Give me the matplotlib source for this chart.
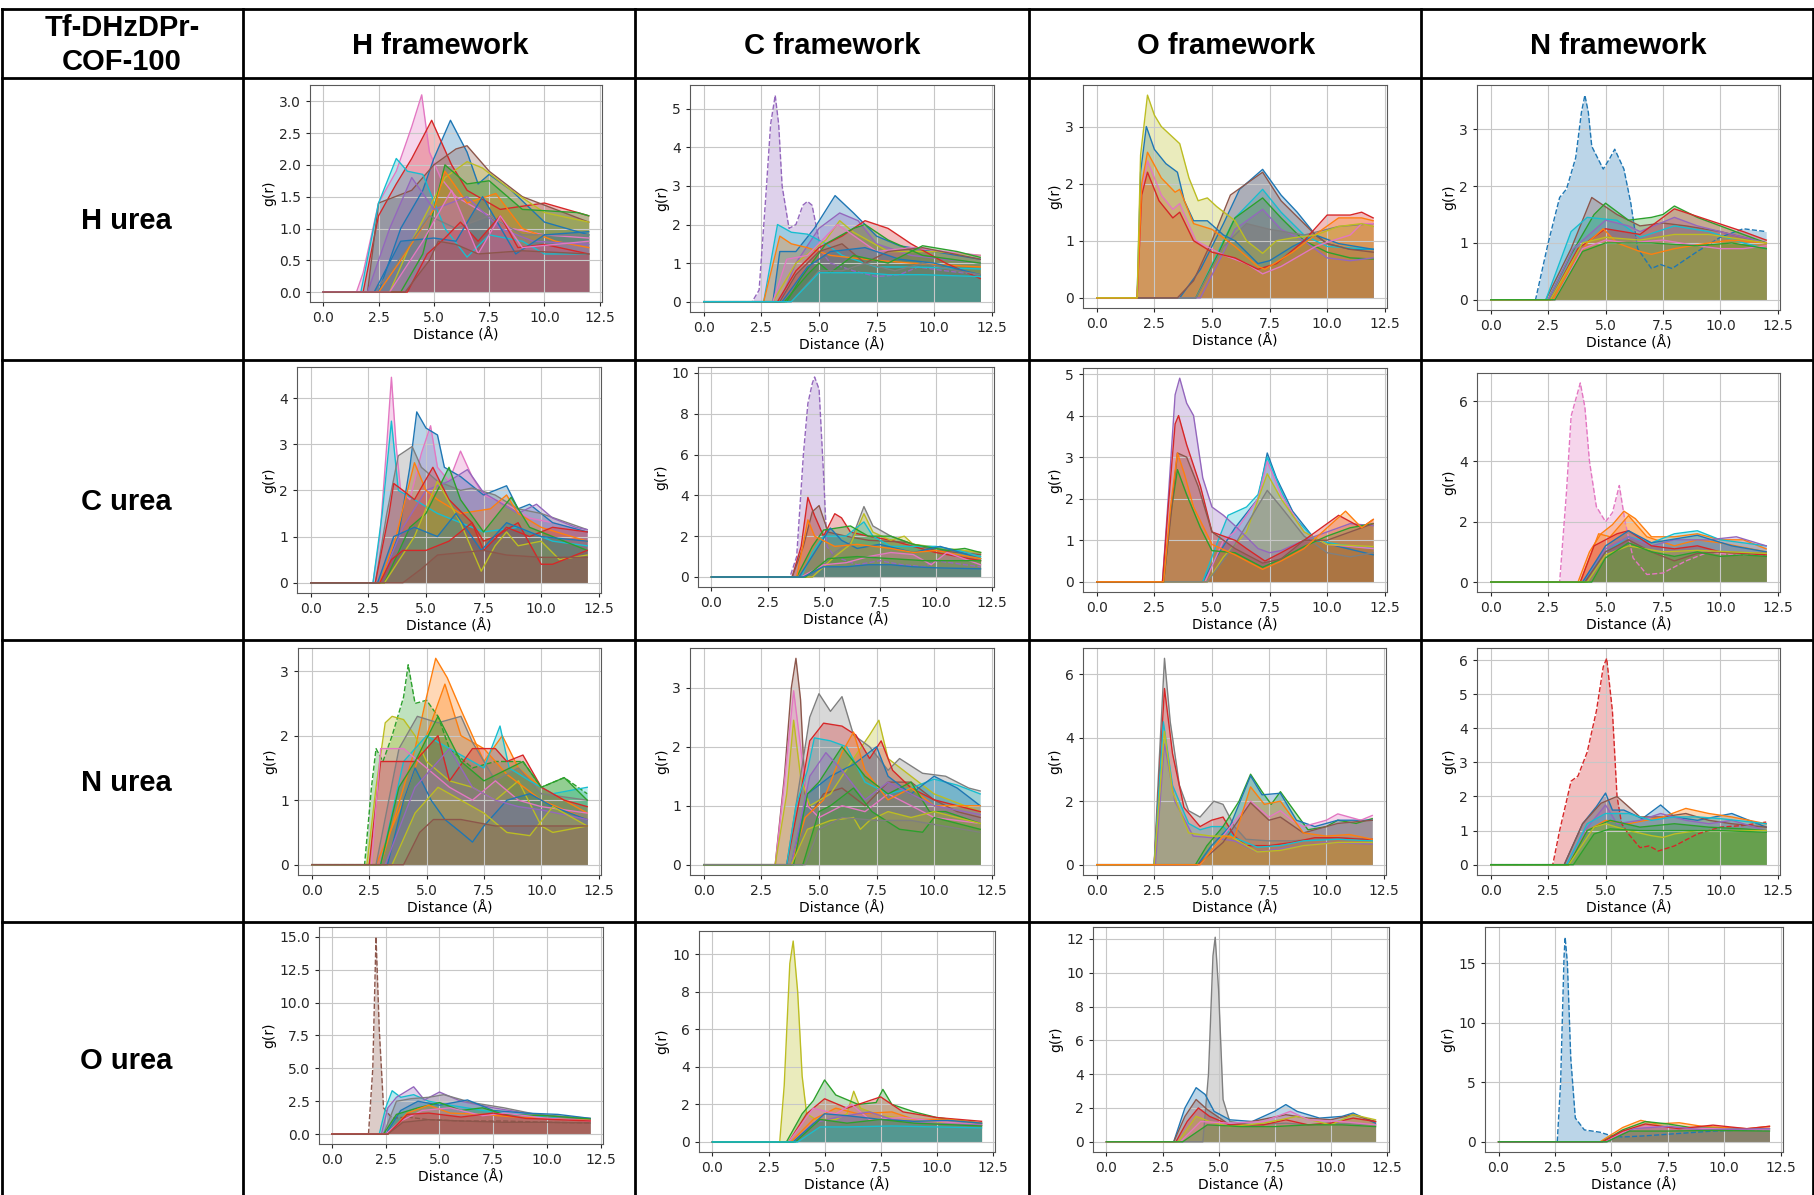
import numpy as np
import matplotlib
matplotlib.use('Agg')
import matplotlib.pyplot as plt
from matplotlib.lines import Line2D
from matplotlib.ticker import MultipleLocator

W, H = 1815, 1195

corner_label = 'Tf-DHzDPr-\nCOF-100'
col_labels = ['H framework', 'C framework', 'O framework', 'N framework']
row_labels = ['H urea', 'C urea', 'N urea', 'O urea']

# ---- g(r) curves: each curve = list of (r [Å], g(r)) ----
# H urea
HH = [
    [(0, 0), (1.5, 0), (1.8, 0.3), (2.5, 1.4), (3.3, 1.9), (4.0, 2.6), (4.45, 3.1), (4.8, 2.2), (5.3, 1.8), (6.0, 1.5), (7.0, 1.3), (8.5, 1.0), (10, 0.9), (12, 0.85)],
    [(0, 0), (2.5, 0), (3.5, 1.0), (4.5, 1.6), (5.0, 2.1), (5.75, 2.7), (6.5, 2.2), (7.0, 1.7), (7.5, 1.85), (8.5, 1.6), (10, 1.1), (12, 0.9)],
    [(0, 0), (1.8, 0), (2.5, 1.2), (3.3, 1.7), (4.0, 2.1), (4.9, 2.7), (5.8, 2.0), (6.5, 1.6), (8.0, 1.3), (10, 1.4), (11, 1.3), (12, 1.2)],
    [(0, 0), (2.0, 0), (2.5, 1.4), (4.0, 1.6), (5.0, 2.0), (6.0, 2.25), (6.5, 2.3), (7.5, 1.9), (9, 1.5), (10.5, 1.3), (12, 1.1)],
    [(0, 0), (1.7, 0), (2.5, 1.4), (3.3, 2.1), (3.8, 1.9), (4.5, 1.85), (5.5, 1.0), (6.5, 0.55), (7.5, 0.9), (9, 0.8), (10, 0.6), (12, 0.6)],
    [(0, 0), (3.0, 0), (4.0, 0.8), (5.5, 1.8), (6.5, 2.05), (7.2, 1.95), (8.5, 1.6), (10, 1.25), (12, 1.1)],
    [(0, 0), (3.5, 0), (4.5, 0.6), (5.5, 2.0), (6.5, 1.7), (7.5, 1.75), (9, 1.3), (11.5, 1.25), (12, 1.2)],
    [(0, 0), (2.5, 0), (3.5, 0.5), (5.0, 1.3), (5.5, 1.9), (6.5, 1.4), (7.8, 1.55), (9, 1.0), (10.5, 0.8), (12, 0.7)],
    [(0, 0), (2.0, 0), (3.0, 1.0), (4.0, 1.8), (5.0, 1.3), (6.5, 1.5), (8.0, 1.0), (9.5, 0.8), (12, 0.75)],
    [(0, 0), (2.3, 0), (3.2, 0.4), (4.8, 1.2), (6.0, 1.0), (7.5, 1.2), (9, 0.9), (12, 0.9)],
    [(0, 0), (2.3, 0), (3.5, 0.8), (5.0, 0.85), (6.0, 0.8), (7.2, 1.5), (8.7, 0.6), (10, 0.9), (12, 0.95)],
    [(0, 0), (3.8, 0), (4.7, 0.6), (5.5, 0.85), (6.2, 1.1), (7.0, 0.8), (8.0, 1.2), (8.8, 0.7), (10, 0.75), (12, 0.6)],
    [(0, 0), (3.0, 0), (4.5, 0.8), (5.8, 1.6), (7.0, 0.6), (8.0, 1.2), (9.0, 0.7), (12, 0.8)],
    [(0, 0), (3.7, 0), (4.8, 0.5), (5.2, 0.8), (6.0, 0.75), (7.0, 0.6), (9, 0.65), (12, 0.6)],
]
HH_colors = ['C6', 'C0', 'C3', 'C5', 'C9', 'C8', 'C2', 'C1', 'C4', 'C7', 'C0', 'C3', 'C6', 'C5']

CH = [
    [(0, 0), (2.1, 0), (2.4, 0.3), (2.7, 2.8), (2.9, 4.6), (3.1, 5.35), (3.25, 4.6), (3.4, 3.0), (3.7, 1.9), (4.0, 2.0), (4.3, 2.5), (4.5, 2.6), (4.7, 2.5), (5.1, 1.3), (5.5, 1.0), (6.5, 0.8), (7.5, 0.65), (8.5, 0.7), (9.3, 0.9), (10.5, 0.8), (12, 0.7)],
    [(0, 0), (3.0, 0), (3.3, 1.3), (4.0, 1.3), (4.8, 1.9), (5.7, 2.75), (6.5, 2.3), (7.5, 1.7), (8.5, 1.45), (10, 1.3), (12, 1.1)],
    [(0, 0), (3.3, 0), (4.0, 1.0), (5.0, 1.9), (5.9, 2.3), (6.7, 2.1), (7.5, 1.5), (9, 1.2), (12, 1.0)],
    [(0, 0), (2.6, 0), (3.2, 2.0), (3.8, 1.8), (4.5, 1.75), (5.3, 1.5), (6.0, 1.2), (7.5, 0.9), (9, 0.9), (12, 0.85)],
    [(0, 0), (2.6, 0), (3.3, 1.7), (3.8, 1.5), (4.5, 1.4), (5.5, 1.2), (7.0, 1.1), (9, 1.0), (12, 0.9)],
    [(0, 0), (3.0, 0), (4.0, 1.0), (5.3, 1.6), (5.9, 2.1), (6.5, 1.8), (8.0, 1.3), (10, 1.3), (12, 1.2)],
    [(0, 0), (3.2, 0), (4.0, 0.8), (5.0, 1.4), (6.0, 1.7), (7.0, 2.1), (8.0, 1.9), (9.0, 1.5), (10.5, 1.0), (12, 0.6)],
    [(0, 0), (3.6, 0), (4.2, 0.6), (5.3, 1.5), (6.5, 1.9), (7.0, 2.0), (8.0, 1.6), (9.5, 1.2), (12, 1.0)],
    [(0, 0), (3.0, 0), (3.6, 1.1), (4.5, 1.2), (5.8, 2.0), (6.3, 1.8), (7.5, 1.3), (9, 1.4), (12, 1.2)],
    [(0, 0), (3.3, 0), (4.0, 0.7), (5.0, 1.3), (6.0, 1.5), (7.0, 1.0), (8.0, 1.3), (9.5, 1.4), (12, 1.1)],
    [(0, 0), (3.4, 0), (4.5, 0.9), (5.5, 1.3), (7.0, 1.4), (8.5, 1.1), (10, 1.0), (12, 0.7)],
    [(0, 0), (3.5, 0), (4.5, 0.7), (5.0, 1.0), (5.5, 0.75), (6.5, 1.2), (8.0, 1.0), (9.5, 1.45), (11, 1.3), (12, 1.15)],
    [(0, 0), (3.8, 0), (5.0, 0.8), (6.0, 0.8), (7.0, 1.0), (8.3, 0.8), (9.5, 1.0), (11, 0.8), (12, 0.7)],
    [(0, 0), (3.8, 0), (5.0, 0.75), (6.0, 0.75), (7.0, 0.75), (8.0, 0.7), (9.5, 0.7), (12, 0.65)],
]
CH_colors = ['C4', 'C0', 'C4', 'C9', 'C1', 'C8', 'C3', 'C2', 'C6', 'C5', 'C0', 'C2', 'C7', 'C9']

OH = [
    [(0, 0), (3.6, 0), (4.5, 0.5), (5.5, 1.3), (6.2, 1.9), (7.2, 2.25), (8.0, 1.8), (8.7, 1.5), (9.5, 1.1), (10, 0.95), (11, 0.85), (12, 0.85)],
    [(0, 0), (4.3, 0), (5.5, 1.0), (6.0, 1.4), (7.2, 1.9), (8.0, 1.5), (9.0, 1.1), (10, 0.9), (12, 0.85)],
    [(0, 0), (4.3, 0), (5.3, 0.8), (6.0, 1.4), (7.2, 1.75), (8.0, 1.4), (9.0, 1.0), (10, 0.8), (11, 0.7), (12, 0.68)],
    [(0, 0), (4.5, 0), (5.5, 0.8), (6.0, 1.2), (7.2, 1.55), (8.0, 1.2), (9.0, 1.0), (10, 0.7), (11, 0.65), (12, 0.7)],
    [(0, 0), (4.3, 0), (5.5, 0.9), (6.5, 1.3), (7.5, 1.2), (9.0, 1.1), (10.5, 1.25), (12, 1.3)],
    [(0, 0), (3.5, 0), (4.2, 0.3), (5.0, 1.0), (5.8, 1.8), (6.5, 2.0), (7.2, 2.2), (8.0, 1.7), (8.5, 1.5), (9.5, 1.1), (10, 0.95), (11, 0.85), (12, 0.8)],
    [(0, 0), (1.75, 0), (1.9, 2.2), (2.15, 3.0), (2.5, 2.6), (3.0, 2.35), (3.5, 2.2), (3.8, 1.7), (4.2, 1.35), (4.8, 1.35), (5.5, 1.1), (6.0, 1.0), (7.0, 0.6), (7.5, 0.65), (8.5, 0.9), (9.5, 1.1), (10.5, 0.95), (12, 0.85)],
    [(0, 0), (1.75, 0), (1.95, 1.9), (2.2, 2.4), (2.8, 1.8), (3.3, 1.55), (3.6, 1.65), (4.3, 1.0), (5.5, 0.75), (6.5, 0.6), (7.2, 0.42), (8.0, 0.55), (9.5, 0.9), (10.2, 1.0), (11, 1.1), (11.5, 1.3), (12, 1.3)],
    [(0, 0), (1.75, 0), (1.95, 1.8), (2.2, 2.2), (2.7, 1.7), (3.3, 1.4), (3.6, 1.5), (4.2, 1.0), (5.0, 0.8), (6.0, 0.7), (7.0, 0.5), (7.8, 0.6), (9.0, 1.0), (10, 1.45), (11, 1.45), (11.5, 1.5), (12, 1.4)],
    [(0, 0), (1.75, 0), (1.95, 2.0), (2.2, 2.55), (2.8, 2.1), (3.4, 1.85), (3.6, 1.9), (4.2, 1.3), (5.0, 1.2), (6.0, 0.9), (7.0, 0.55), (7.3, 0.5), (8.5, 0.8), (9.8, 1.2), (10.5, 1.4), (11.5, 1.4), (12, 1.35)],
    [(0, 0), (1.75, 0), (1.9, 2.5), (2.2, 3.55), (2.5, 3.2), (2.8, 3.0), (3.2, 2.85), (3.6, 2.7), (4.0, 2.1), (4.4, 1.7), (4.8, 1.75), (5.2, 1.6), (6.0, 1.35), (6.5, 1.0), (7.2, 0.78), (7.8, 1.0), (8.5, 1.05), (9.5, 1.1), (10.5, 1.25), (11.5, 1.3), (12, 1.25)],
]
OH_colors = ['C0', 'C9', 'C2', 'C4', 'C7', 'C5', 'C0', 'C6', 'C3', 'C1', 'C8']

NH = [
    [(0, 0), (1.95, 0), (2.5, 1.0), (3.0, 1.8), (3.3, 1.95), (3.7, 2.5), (3.95, 3.3), (4.1, 3.6), (4.25, 3.3), (4.4, 2.7), (4.9, 2.3), (5.2, 2.5), (5.4, 2.65), (5.8, 2.3), (6.1, 1.7), (6.4, 0.9), (7.0, 0.55), (7.4, 0.62), (7.9, 0.55), (9.0, 0.85), (10, 1.1), (11, 1.25), (12, 1.2)],
    [(0, 0), (2.4, 0), (3.5, 0.9), (4.4, 1.8), (5.5, 1.5), (6.5, 1.3), (7.5, 1.35), (8.5, 1.3), (10, 1.2), (12, 1.0)],
    [(0, 0), (2.5, 0), (3.5, 0.8), (4.5, 1.5), (5.0, 1.7), (6.0, 1.4), (7.0, 1.45), (7.5, 1.5), (8.0, 1.65), (9, 1.45), (10, 1.3), (11, 1.15), (12, 1.0)],
    [(0, 0), (2.4, 0), (3.5, 1.2), (4.2, 1.45), (5.5, 1.4), (6.5, 1.1), (8.0, 1.3), (9.5, 1.2), (11, 1.0), (12, 0.9)],
    [(0, 0), (2.5, 0), (3.6, 0.9), (5.0, 1.4), (6.0, 1.3), (6.5, 1.2), (8.0, 1.45), (9, 1.3), (10, 1.2), (12, 1.0)],
    [(0, 0), (2.6, 0), (3.8, 0.9), (5.0, 1.25), (6.5, 1.15), (8.0, 1.6), (9.5, 1.4), (11, 1.2), (12, 1.05)],
    [(0, 0), (2.7, 0), (3.5, 0.6), (4.2, 1.0), (4.9, 1.25), (5.5, 1.0), (6.5, 0.85), (7.0, 0.8), (8.0, 0.9), (9.5, 1.0), (10.5, 1.05), (12, 1.0)],
    [(0, 0), (2.8, 0), (4.0, 0.9), (5.0, 1.05), (6.0, 1.0), (7.5, 1.05), (9.0, 0.95), (10, 0.9), (11, 0.9), (12, 0.95)],
    [(0, 0), (2.6, 0), (4.0, 1.0), (5.0, 1.1), (6.5, 1.05), (8.0, 1.15), (9.5, 1.15), (12, 1.0)],
    [(0, 0), (2.8, 0), (4.0, 0.85), (5.0, 1.0), (7.0, 1.0), (9.0, 0.95), (10.5, 1.0), (12, 0.9)],
]
NH_colors = ['C0', 'C5', 'C2', 'C9', 'C4', 'C3', 'C1', 'C6', 'C8', 'C2']

# C urea
HC = [
    [(0, 0), (2.7, 0), (3.0, 1.0), (3.3, 3.0), (3.5, 4.45), (3.7, 3.0), (3.9, 2.0), (4.3, 1.8), (4.8, 2.8), (5.2, 3.4), (5.5, 2.5), (6.0, 2.2), (6.5, 2.85), (7.0, 2.3), (7.5, 1.9), (8.5, 1.7), (9.5, 1.4), (10.5, 1.3), (12, 1.1)],
    [(0, 0), (2.7, 0), (3.1, 1.5), (3.5, 3.5), (3.8, 2.0), (4.5, 1.8), (5.5, 1.5), (6.5, 1.3), (7.5, 1.1), (9, 1.2), (10.5, 0.9), (12, 0.8)],
    [(0, 0), (3.0, 0), (3.8, 1.0), (4.3, 2.5), (4.6, 3.7), (5.0, 3.35), (5.5, 3.2), (5.8, 2.5), (6.5, 2.3), (7.5, 1.9), (8.5, 2.1), (9.0, 1.6), (9.5, 1.7), (10.5, 1.3), (12, 1.1)],
    [(0, 0), (2.8, 0), (3.3, 1.5), (3.8, 2.75), (4.4, 2.95), (4.8, 2.5), (5.5, 2.2), (6.5, 2.0), (7.0, 2.05), (8.0, 1.9), (9.0, 1.6), (10, 1.5), (12, 1.15)],
    [(0, 0), (3.0, 0), (4.0, 1.2), (5.0, 2.0), (6.0, 2.2), (6.8, 2.45), (7.5, 1.95), (9.0, 1.5), (9.8, 1.7), (10.5, 1.4), (11.5, 1.2), (12, 1.15)],
    [(0, 0), (3.0, 0), (3.7, 1.0), (4.5, 2.6), (5.0, 2.0), (5.5, 1.8), (6.5, 1.5), (7.8, 1.6), (8.5, 1.9), (9.0, 1.5), (10, 1.2), (12, 0.9)],
    [(0, 0), (2.8, 0), (3.4, 1.5), (3.6, 2.15), (4.0, 2.0), (4.5, 1.8), (5.3, 2.5), (6.0, 1.8), (7.0, 1.3), (7.5, 0.7), (8.5, 1.2), (9.5, 1.0), (10.5, 1.2), (12, 1.1)],
    [(0, 0), (3.2, 0), (4.3, 1.2), (5.0, 1.5), (6.0, 2.5), (6.5, 1.8), (7.5, 1.1), (8.7, 1.85), (9.5, 1.2), (10.5, 1.0), (12, 0.7)],
    [(0, 0), (3.2, 0), (4.5, 1.0), (5.5, 2.2), (6.5, 1.3), (7.4, 0.25), (8.0, 0.8), (8.5, 1.1), (9.0, 0.8), (10, 0.9), (10.8, 0.5), (12, 0.6)],
    [(0, 0), (3.0, 0), (3.5, 0.5), (4.0, 0.7), (5.0, 0.7), (6.0, 0.9), (7.0, 1.3), (7.5, 0.9), (8.0, 1.0), (9.0, 1.3), (10, 0.4), (10.5, 0.4), (12, 0.7)],
    [(0, 0), (2.9, 0), (3.6, 1.0), (4.5, 1.2), (5.5, 1.0), (6.3, 1.5), (7.4, 0.7), (8.5, 1.3), (10, 1.0), (12, 0.9)],
    [(0, 0), (4.0, 0), (4.8, 0.3), (5.5, 0.6), (6.5, 0.65), (7.5, 0.7), (8.5, 0.6), (10, 0.55), (12, 0.55)],
]
HC_colors = ['C6', 'C9', 'C0', 'C7', 'C4', 'C1', 'C3', 'C2', 'C8', 'C3', 'C0', 'C5']

CC = [
    [(0, 0), (3.5, 0), (3.8, 1.0), (4.1, 6.0), (4.3, 8.5), (4.5, 9.5), (4.6, 9.8), (4.8, 9.2), (5.0, 5.0), (5.15, 1.5), (5.5, 1.0), (6.5, 0.6), (7.5, 0.8), (8.5, 0.6), (9.5, 0.5), (10, 0.8), (12, 0.5)],
    [(0, 0), (3.6, 0), (4.0, 1.5), (4.3, 3.9), (4.6, 3.0), (5.0, 2.0), (5.5, 3.1), (5.8, 2.9), (6.2, 2.2), (7.0, 2.0), (8.0, 1.8), (9.0, 1.5), (10, 1.2), (11, 1.0), (12, 0.8)],
    [(0, 0), (3.6, 0), (4.1, 1.5), (4.5, 3.2), (4.8, 3.5), (5.2, 2.2), (6.0, 2.0), (7.0, 1.8), (8.7, 1.7), (10, 1.3), (12, 1.1)],
    [(0, 0), (4.5, 0), (5.5, 1.2), (6.2, 1.7), (6.8, 3.45), (7.2, 2.5), (8.0, 2.0), (9.0, 1.6), (10, 1.4), (12, 1.2)],
    [(0, 0), (4.5, 0), (5.5, 1.0), (6.2, 1.6), (6.8, 3.1), (7.2, 2.2), (8.0, 1.8), (8.6, 2.0), (9.0, 1.6), (10.5, 1.4), (12, 1.2)],
    [(0, 0), (4.0, 0), (4.5, 1.2), (5.0, 2.0), (6.0, 2.0), (6.8, 2.7), (7.2, 2.0), (8.0, 1.5), (10, 1.5), (11, 1.3), (12, 1.0)],
    [(0, 0), (3.8, 0), (4.5, 1.5), (5.0, 2.3), (5.6, 2.4), (6.2, 2.5), (7.0, 2.0), (8.0, 2.0), (9.0, 1.6), (10.5, 1.3), (11.3, 1.4), (12, 1.2)],
    [(0, 0), (3.9, 0), (4.6, 1.2), (5.3, 2.4), (5.8, 1.8), (6.5, 1.4), (7.5, 1.6), (9.0, 1.2), (10.2, 1.5), (12, 0.9)],
    [(0, 0), (3.8, 0), (4.3, 2.8), (4.6, 2.0), (5.5, 1.5), (6.5, 1.6), (8.0, 1.4), (9.0, 1.2), (10, 1.3), (12, 0.9)],
    [(0, 0), (4.0, 0), (5.0, 0.6), (6.0, 0.7), (7.0, 1.0), (8.0, 1.2), (9.0, 1.1), (9.8, 0.6), (10.5, 1.2), (12, 0.6)],
    [(0, 0), (4.2, 0), (5.2, 0.9), (6.5, 1.0), (8.0, 0.9), (9.5, 0.8), (12, 0.8)],
    [(0, 0), (4.1, 0), (5.0, 0.5), (6.0, 0.5), (7.0, 0.6), (8.0, 0.6), (9.0, 0.5), (10, 0.45), (12, 0.4)],
]
CC_colors = ['C4', 'C3', 'C5', 'C7', 'C8', 'C9', 'C2', 'C0', 'C1', 'C6', 'C2', 'C0']

OC = [
    [(0, 0), (4.6, 0), (5.2, 0.6), (6.0, 1.3), (7.0, 2.0), (7.4, 3.1), (7.8, 2.5), (8.5, 1.7), (9.5, 1.0), (10.5, 0.85), (12, 0.65)],
    [(0, 0), (4.6, 0), (5.2, 0.9), (5.7, 1.6), (6.5, 1.8), (7.0, 2.1), (7.4, 3.0), (8.0, 2.2), (8.5, 1.6), (9.5, 1.0), (10.5, 0.9), (12, 0.8)],
    [(0, 0), (4.7, 0), (5.5, 1.0), (6.0, 1.2), (7.0, 2.0), (7.4, 2.9), (8.0, 2.1), (9.0, 1.2), (10, 0.9), (12, 0.8)],
    [(0, 0), (4.8, 0), (5.5, 0.6), (6.5, 1.2), (7.4, 2.6), (8.0, 2.0), (9.0, 1.2), (10, 0.9), (12, 0.85)],
    [(0, 0), (4.8, 0), (6.0, 0.9), (7.4, 2.2), (8.0, 1.8), (9.0, 1.1), (10, 0.7), (11, 0.6), (12, 0.7)],
    [(0, 0), (2.85, 0), (3.1, 2.0), (3.4, 4.5), (3.6, 4.9), (3.9, 4.3), (4.2, 4.0), (4.6, 2.5), (5.0, 1.8), (5.5, 1.6), (6.0, 1.35), (7.0, 0.8), (7.5, 0.7), (8.0, 0.75), (9.0, 1.0), (10, 1.2), (11, 1.4), (12, 1.35)],
    [(0, 0), (2.85, 0), (3.1, 1.8), (3.4, 3.8), (3.55, 4.0), (3.9, 3.3), (4.5, 2.3), (5.0, 1.2), (5.5, 1.1), (6.0, 1.0), (6.5, 0.8), (7.3, 0.5), (8.0, 0.7), (9.0, 1.0), (10, 1.4), (10.5, 1.6), (11.5, 1.3), (12, 1.5)],
    [(0, 0), (2.9, 0), (3.2, 1.6), (3.5, 2.7), (3.9, 2.1), (4.5, 1.3), (5.0, 0.75), (6.0, 0.7), (7.2, 0.35), (8.0, 0.55), (9.0, 0.85), (10, 1.1), (11, 1.3), (12, 1.4)],
    [(0, 0), (2.9, 0), (3.2, 1.5), (3.5, 3.1), (3.9, 3.0), (4.4, 2.3), (5.0, 1.2), (6.0, 0.8), (7.2, 0.45), (8.0, 0.55), (9.0, 1.0), (10, 1.0), (12, 1.4)],
    [(0, 0), (2.9, 0), (3.2, 1.8), (3.5, 3.1), (3.8, 2.6), (4.2, 1.8), (5.0, 0.9), (6.0, 0.65), (7.2, 0.3), (8.0, 0.5), (9.0, 0.8), (10, 1.3), (10.8, 1.7), (11.5, 1.3), (12, 1.5)],
]
OC_colors = ['C0', 'C9', 'C6', 'C8', 'C7', 'C4', 'C3', 'C2', 'C5', 'C1']

NC = [
    [(0, 0), (3.0, 0), (3.3, 3.0), (3.5, 5.5), (3.9, 6.6), (4.1, 5.8), (4.3, 4.0), (4.6, 2.5), (5.0, 2.0), (5.3, 2.3), (5.6, 3.2), (5.85, 2.0), (6.2, 0.8), (6.8, 0.25), (7.5, 0.3), (8.5, 0.7), (9.5, 1.0), (10.5, 0.9), (12, 0.9)],
    [(0, 0), (3.8, 0), (4.3, 1.0), (4.8, 1.6), (5.3, 1.9), (5.8, 2.35), (6.3, 2.1), (7.0, 1.5), (8.0, 1.5), (9.0, 1.6), (10, 1.4), (11, 1.4), (12, 1.1)],
    [(0, 0), (3.9, 0), (4.7, 1.6), (5.2, 1.5), (6.0, 2.2), (6.8, 1.5), (8.0, 1.2), (9.0, 1.4), (10, 1.3), (12, 1.0)],
    [(0, 0), (4.0, 0), (5.0, 1.0), (6.0, 1.5), (7.0, 1.3), (8.0, 1.6), (9.0, 1.7), (10, 1.4), (11, 1.3), (12, 1.2)],
    [(0, 0), (4.0, 0), (5.0, 1.1), (6.0, 1.5), (7.0, 1.2), (8.0, 1.4), (9.5, 1.4), (10.7, 1.5), (12, 1.2)],
    [(0, 0), (3.9, 0), (4.5, 1.2), (5.5, 1.6), (6.0, 1.7), (7.0, 1.2), (8.0, 1.1), (9.0, 1.2), (10, 1.0), (12, 0.9)],
    [(0, 0), (4.0, 0), (5.0, 1.2), (6.0, 1.7), (7.0, 1.3), (9.0, 1.55), (10.5, 1.2), (12, 1.0)],
    [(0, 0), (4.1, 0), (5.0, 1.0), (6.0, 1.4), (7.0, 1.0), (8.0, 0.7), (9.0, 0.95), (10, 1.0), (12, 0.95)],
    [(0, 0), (4.2, 0), (5.0, 0.9), (6.0, 1.2), (7.5, 1.0), (9.0, 1.05), (10.5, 1.0), (12, 0.95)],
    [(0, 0), (4.4, 0), (5.0, 0.8), (6.0, 1.3), (7.0, 1.0), (8.0, 0.85), (9.0, 1.0), (10, 0.85), (11, 0.9), (12, 0.85)],
]
NC_colors = ['C6', 'C1', 'C1', 'C9', 'C4', 'C3', 'C0', 'C5', 'C8', 'C2']

# N urea
HN = [
    [(0, 0), (2.3, 0), (2.6, 1.2), (2.8, 1.8), (3.1, 1.6), (3.5, 2.0), (4.0, 2.6), (4.2, 3.1), (4.5, 2.5), (5.0, 2.55), (5.5, 2.3), (6.0, 1.8), (7.0, 1.5), (8.0, 1.6), (9.2, 1.6), (10, 1.2), (11, 1.35), (12, 1.1)],
    [(0, 0), (3.0, 0), (4.0, 1.2), (4.5, 1.8), (5.0, 2.6), (5.4, 3.2), (5.9, 2.9), (6.5, 2.4), (7.0, 2.0), (7.5, 1.6), (8.3, 2.0), (9.0, 1.5), (10, 1.2), (12, 0.8)],
    [(0, 0), (2.4, 0), (2.8, 1.2), (3.2, 2.2), (3.5, 2.3), (4.0, 2.25), (4.5, 2.0), (5.0, 1.6), (6.0, 1.3), (7.0, 1.2), (8.0, 1.0), (9.0, 1.3), (10, 0.6), (10.5, 0.5), (12, 0.6)],
    [(0, 0), (2.8, 0), (4.0, 1.0), (5.0, 2.0), (5.8, 2.8), (6.5, 2.0), (7.5, 1.8), (8.5, 1.4), (10, 1.0), (12, 0.7)],
    [(0, 0), (2.8, 0), (3.8, 1.8), (4.6, 2.3), (5.5, 2.2), (6.5, 2.3), (7.0, 1.9), (8.0, 1.3), (9.0, 1.5), (10, 1.1), (12, 1.0)],
    [(0, 0), (3.0, 0), (4.0, 1.6), (5.0, 2.0), (6.0, 1.8), (7.0, 1.6), (7.5, 1.5), (8.2, 2.15), (8.6, 1.5), (9.5, 1.3), (10.5, 1.1), (12, 1.2)],
    [(0, 0), (2.5, 0), (3.0, 1.6), (3.5, 1.6), (4.5, 1.6), (5.5, 2.0), (6.0, 1.3), (7.0, 1.8), (8.0, 1.8), (8.5, 1.6), (9.2, 1.7), (10, 1.2), (11, 1.0), (12, 0.9)],
    [(0, 0), (2.6, 0), (3.0, 1.8), (4.0, 1.8), (5.0, 1.5), (6.0, 1.2), (7.0, 1.0), (8.0, 1.3), (9.0, 1.0), (10, 0.9), (12, 0.8)],
    [(0, 0), (3.3, 0), (4.0, 1.0), (4.5, 1.5), (5.2, 1.0), (5.8, 0.7), (6.5, 0.5), (7.0, 0.35), (7.5, 0.6), (8.5, 1.0), (9.5, 1.1), (10.5, 0.9), (12, 0.7)],
    [(0, 0), (3.0, 0), (3.8, 1.2), (4.5, 1.6), (5.5, 2.3), (6.5, 1.6), (7.5, 1.3), (9.2, 1.6), (10, 1.2), (11, 1.35), (12, 1.0)],
    [(0, 0), (3.2, 0), (4.5, 1.2), (6.0, 1.8), (7.0, 1.2), (8.0, 1.0), (9.0, 0.9), (10, 0.85), (12, 0.7)],
    [(0, 0), (3.5, 0), (4.5, 0.8), (5.5, 1.2), (6.5, 1.0), (7.5, 0.8), (8.5, 0.5), (9.5, 0.45), (10.5, 0.9), (12, 0.6)],
    [(0, 0), (4.0, 0), (4.7, 0.5), (5.3, 0.7), (6.5, 0.7), (8.0, 0.6), (9.5, 0.6), (11, 0.6), (12, 0.6)],
]
HN_colors = ['C2', 'C1', 'C8', 'C1', 'C7', 'C9', 'C3', 'C6', 'C0', 'C2', 'C4', 'C8', 'C5']

CN = [
    [(0, 0), (3.1, 0), (3.5, 1.5), (3.8, 3.0), (4.0, 3.5), (4.2, 2.8), (4.4, 1.2), (4.7, 0.9), (5.2, 1.2), (6.0, 1.3), (7.0, 1.0), (8.0, 1.4), (9.0, 1.4), (10, 1.1), (11, 0.9), (12, 0.8)],
    [(0, 0), (3.1, 0), (3.5, 1.4), (3.9, 2.95), (4.2, 2.0), (4.5, 1.0), (5.0, 0.8), (6.0, 1.0), (7.0, 0.9), (8.0, 1.2), (9.0, 1.0), (10, 0.8), (12, 0.7)],
    [(0, 0), (3.1, 0), (3.6, 1.2), (3.9, 2.45), (4.2, 1.5), (4.6, 1.0), (5.5, 1.2), (6.5, 1.8), (7.2, 2.2), (7.6, 2.45), (8.0, 1.8), (9.0, 1.5), (10, 1.2), (12, 0.9)],
    [(0, 0), (3.6, 0), (4.2, 1.5), (4.6, 2.5), (5.0, 2.9), (5.5, 2.6), (6.0, 2.85), (6.5, 2.2), (7.2, 2.0), (8.0, 1.6), (8.5, 1.8), (9.5, 1.55), (10.5, 1.5), (11.5, 1.3), (12, 1.25)],
    [(0, 0), (3.6, 0), (4.2, 1.2), (4.6, 2.1), (5.2, 2.4), (6.0, 2.35), (6.6, 2.2), (7.2, 1.8), (7.7, 2.1), (8.2, 1.6), (9.0, 1.3), (10, 1.1), (11, 1.0), (12, 0.9)],
    [(0, 0), (3.6, 0), (4.0, 1.0), (4.5, 1.6), (4.8, 2.15), (5.5, 2.1), (6.2, 2.0), (7.0, 1.4), (8.0, 1.2), (9.0, 1.3), (10, 1.45), (11, 1.35), (12, 1.2)],
    [(0, 0), (3.8, 0), (4.5, 1.2), (5.5, 1.5), (6.5, 1.7), (7.5, 2.0), (8.0, 1.5), (9.0, 1.2), (10, 1.5), (11, 1.3), (12, 1.0)],
    [(0, 0), (3.8, 0), (4.4, 0.8), (5.2, 1.1), (6.0, 1.9), (6.5, 2.25), (7.0, 1.6), (8.0, 1.1), (9.0, 1.3), (10, 1.0), (12, 1.0)],
    [(0, 0), (3.9, 0), (4.5, 1.2), (5.0, 1.4), (6.0, 2.0), (7.0, 1.5), (8.0, 1.2), (9.0, 1.4), (9.8, 0.9), (10.5, 0.9), (12, 0.7)],
    [(0, 0), (3.8, 0), (4.6, 1.5), (5.3, 1.9), (6.0, 1.6), (7.0, 1.1), (8.0, 1.4), (9.0, 1.2), (10, 1.0), (12, 0.85)],
    [(0, 0), (3.8, 0), (4.5, 0.6), (5.5, 0.75), (6.5, 0.8), (6.8, 0.6), (7.2, 0.75), (8.0, 0.9), (9.0, 0.8), (10, 0.9), (12, 0.7)],
    [(0, 0), (4.3, 0), (5.0, 0.9), (5.5, 1.0), (6.5, 1.3), (7.3, 0.9), (8.5, 0.6), (9.5, 0.55), (10, 0.8), (12, 0.6)],
    [(0, 0), (4.4, 0), (5.0, 0.6), (6.0, 0.8), (7.5, 0.75), (9.0, 0.75), (10.5, 0.65), (12, 0.55)],
]
CN_colors = ['C5', 'C6', 'C8', 'C7', 'C3', 'C9', 'C0', 'C1', 'C2', 'C4', 'C8', 'C2', 'C7']

ON = [
    [(0, 0), (2.5, 0), (2.7, 3.0), (2.95, 6.5), (3.2, 4.5), (3.6, 2.5), (4.0, 1.7), (4.5, 1.5), (5.1, 2.0), (5.5, 1.9), (6.0, 1.2), (6.5, 0.8), (7.5, 0.75), (8.5, 0.75), (9.5, 0.8), (10.5, 0.85), (12, 0.8)],
    [(0, 0), (2.5, 0), (2.7, 2.5), (2.95, 5.55), (3.3, 3.5), (3.8, 1.8), (4.5, 1.2), (5.0, 1.4), (5.5, 1.5), (6.0, 0.9), (6.5, 0.6), (7.5, 0.6), (8.5, 0.7), (9.5, 0.85), (10.5, 0.85), (11.5, 0.8), (12, 0.8)],
    [(0, 0), (2.5, 0), (2.7, 2.3), (2.9, 4.5), (3.3, 2.5), (4.0, 1.3), (4.5, 1.1), (5.0, 1.2), (5.5, 1.2), (6.0, 0.85), (7.0, 0.55), (8.0, 0.6), (9.0, 0.75), (10.5, 0.8), (12, 0.75)],
    [(0, 0), (2.55, 0), (2.95, 3.8), (3.4, 2.0), (4.2, 0.9), (5.0, 0.85), (6.0, 0.75), (7.0, 0.4), (8.5, 0.55), (10, 0.7), (12, 0.65)],
    [(0, 0), (4.3, 0), (4.8, 0.6), (5.5, 1.2), (6.2, 2.0), (6.7, 2.85), (7.2, 2.3), (7.6, 1.9), (8.0, 2.3), (8.5, 1.8), (9.2, 1.1), (10, 1.2), (10.5, 1.4), (11.3, 1.3), (12, 1.45)],
    [(0, 0), (4.4, 0), (5.0, 0.6), (5.8, 1.2), (6.7, 2.8), (7.2, 2.2), (8.0, 2.25), (8.7, 1.4), (9.5, 1.2), (10.5, 1.4), (12, 1.4)],
    [(0, 0), (4.5, 0), (5.5, 0.9), (6.7, 2.0), (7.5, 1.5), (8.0, 1.7), (8.5, 1.4), (9.0, 1.2), (10, 1.4), (10.5, 1.6), (11.5, 1.4), (12, 1.55)],
    [(0, 0), (4.4, 0), (5.5, 0.7), (6.7, 1.95), (7.5, 1.4), (8.0, 1.5), (9.0, 1.0), (10.5, 1.3), (12, 1.4)],
    [(0, 0), (2.5, 0), (2.95, 4.2), (3.3, 2.3), (4.0, 1.0), (5.0, 0.9), (5.8, 0.9), (7.0, 0.4), (8.0, 0.45), (9.0, 0.6), (10.5, 0.7), (12, 0.7)],
    [(0, 0), (4.5, 0), (5.5, 0.9), (6.0, 0.85), (6.7, 2.45), (7.3, 1.9), (8.0, 2.0), (9.0, 1.0), (10, 0.9), (11, 0.95), (12, 0.8)],
]
ON_colors = ['C7', 'C3', 'C9', 'C4', 'C2', 'C0', 'C6', 'C5', 'C8', 'C1']

NN = [
    [(0, 0), (2.7, 0), (3.0, 1.0), (3.5, 2.45), (3.8, 2.6), (4.2, 3.3), (4.6, 4.5), (4.9, 5.8), (5.05, 6.05), (5.3, 4.5), (5.5, 2.0), (5.7, 1.2), (6.0, 0.9), (6.5, 0.5), (6.9, 0.55), (7.3, 0.4), (8.0, 0.55), (9.0, 0.9), (10, 1.1), (11, 1.15), (12, 1.25)],
    [(0, 0), (3.2, 0), (4.0, 1.2), (4.6, 1.7), (5.0, 2.1), (5.3, 1.6), (5.8, 1.6), (6.6, 1.35), (7.4, 1.75), (8.0, 1.4), (9.0, 1.3), (10.5, 1.5), (12, 1.1)],
    [(0, 0), (3.2, 0), (4.0, 1.2), (4.8, 1.8), (5.5, 2.0), (6.5, 1.4), (7.5, 1.4), (8.5, 1.5), (9.5, 1.3), (10.5, 1.2), (12, 1.1)],
    [(0, 0), (3.4, 0), (4.2, 1.0), (5.0, 1.3), (6.0, 1.2), (7.5, 1.4), (8.5, 1.65), (9.5, 1.5), (10.5, 1.4), (12, 1.2)],
    [(0, 0), (3.3, 0), (4.1, 1.0), (5.0, 1.75), (5.5, 1.2), (6.5, 1.3), (7.4, 1.5), (8.5, 1.3), (9.5, 1.2), (10.5, 1.3), (12, 1.0)],
    [(0, 0), (3.3, 0), (4.2, 1.2), (5.0, 1.5), (6.0, 1.5), (7.0, 1.3), (8.0, 1.4), (9.0, 1.4), (10, 1.35), (12, 1.2)],
    [(0, 0), (3.4, 0), (4.2, 1.0), (5.2, 1.3), (6.5, 1.1), (8.0, 1.2), (9.5, 1.1), (11, 1.05), (12, 1.0)],
    [(0, 0), (3.4, 0), (4.5, 1.1), (5.0, 1.2), (6.0, 1.0), (7.0, 0.85), (7.5, 0.8), (8.0, 0.9), (9.0, 1.0), (10, 1.0), (12, 1.0)],
    [(0, 0), (3.6, 0), (4.5, 0.9), (5.2, 1.05), (6.5, 1.0), (8.0, 1.0), (10, 1.0), (12, 0.95)],
]
NN_colors = ['C3', 'C0', 'C5', 'C1', 'C4', 'C9', 'C2', 'C8', 'C2']

# O urea
HO = [
    [(0, 0), (1.7, 0), (1.9, 5.0), (2.05, 15.0), (2.2, 8.0), (2.4, 2.0), (2.8, 1.2), (3.5, 1.3), (4.5, 1.1), (6.0, 1.0), (8.0, 1.0), (10, 0.9), (12, 0.85)],
    [(0, 0), (2.2, 0), (2.5, 2.0), (2.8, 3.3), (3.2, 2.8), (3.8, 3.0), (4.5, 2.5), (5.5, 2.2), (7.0, 1.8), (8.5, 1.5), (10, 1.3), (12, 1.1)],
    [(0, 0), (2.3, 0), (2.6, 2.0), (3.0, 2.8), (3.8, 3.6), (4.3, 2.6), (5.0, 3.2), (6.0, 2.5), (7.5, 2.0), (9.0, 1.6), (10.5, 1.3), (12, 1.1)],
    [(0, 0), (2.4, 0), (3.0, 2.5), (3.7, 2.7), (4.5, 2.8), (5.2, 3.0), (6.5, 2.4), (8.0, 2.0), (9.5, 1.5), (12, 1.2)],
    [(0, 0), (2.5, 0), (3.2, 1.8), (4.0, 2.5), (5.0, 2.2), (6.3, 2.6), (7.5, 1.8), (9.0, 1.6), (10.5, 1.5), (12, 1.2)],
    [(0, 0), (2.4, 0), (3.0, 1.5), (4.0, 2.0), (5.0, 2.4), (6.0, 1.8), (7.0, 2.0), (8.0, 1.5), (10, 1.4), (12, 1.15)],
    [(0, 0), (2.6, 0), (3.5, 1.6), (4.5, 2.2), (5.5, 1.6), (7.0, 1.5), (8.5, 1.3), (10, 1.2), (12, 1.05)],
    [(0, 0), (2.5, 0), (3.2, 1.0), (4.2, 1.8), (5.5, 2.0), (7.0, 1.4), (8.0, 1.6), (10, 1.2), (12, 1.0)],
    [(0, 0), (2.6, 0), (3.5, 1.5), (4.5, 1.6), (6.0, 1.3), (7.5, 1.6), (9.0, 1.2), (12, 1.0)],
    [(0, 0), (2.6, 0), (3.3, 0.9), (4.5, 1.1), (6.0, 1.0), (8.0, 0.9), (10, 0.9), (12, 0.85)],
]
HO_colors = ['C5', 'C9', 'C4', 'C7', 'C0', 'C2', 'C1', 'C6', 'C3', 'C5']

CO = [
    [(0, 0), (3.0, 0), (3.2, 3.0), (3.45, 9.5), (3.6, 10.7), (3.8, 8.0), (4.0, 3.5), (4.2, 1.5), (4.6, 1.2), (5.5, 1.2), (6.0, 1.5), (6.3, 2.7), (6.6, 1.8), (7.5, 1.4), (9.0, 1.2), (10.5, 1.0), (12, 0.9)],
    [(0, 0), (3.3, 0), (4.0, 1.5), (4.5, 2.2), (5.0, 3.3), (5.5, 2.5), (6.5, 2.0), (7.3, 2.1), (7.6, 2.8), (8.0, 2.0), (9.0, 1.6), (10, 1.3), (12, 1.0)],
    [(0, 0), (3.4, 0), (4.2, 1.5), (5.0, 2.3), (6.0, 1.8), (7.5, 2.4), (8.5, 1.6), (10, 1.3), (12, 1.1)],
    [(0, 0), (3.5, 0), (4.5, 1.2), (5.5, 1.8), (6.5, 1.5), (8.0, 1.6), (9.0, 1.2), (10.5, 1.2), (12, 1.0)],
    [(0, 0), (3.4, 0), (4.5, 1.8), (5.5, 1.5), (6.2, 2.0), (7.0, 1.2), (8.5, 1.3), (10, 1.1), (12, 0.9)],
    [(0, 0), (3.6, 0), (4.5, 1.0), (5.5, 1.3), (7.0, 1.6), (8.0, 1.2), (9.5, 1.0), (12, 0.9)],
    [(0, 0), (3.6, 0), (5.0, 1.5), (6.0, 1.4), (7.5, 1.2), (9.0, 1.1), (10.5, 1.15), (12, 1.0)],
    [(0, 0), (3.7, 0), (4.8, 1.2), (6.0, 1.0), (7.5, 1.2), (9.0, 1.0), (12, 0.85)],
    [(0, 0), (3.8, 0), (4.8, 0.8), (6.0, 0.8), (8.0, 0.85), (10, 0.8), (12, 0.75)],
]
CO_colors = ['C8', 'C2', 'C3', 'C1', 'C6', 'C4', 'C0', 'C2', 'C9']

OO = [
    [(0, 0), (4.3, 0), (4.55, 4.0), (4.75, 11.0), (4.85, 12.1), (5.0, 9.0), (5.2, 2.5), (5.5, 1.2), (6.5, 1.0), (8.0, 1.1), (9.0, 1.0), (10, 1.1), (12, 1.0)],
    [(0, 0), (3.0, 0), (3.5, 2.0), (4.0, 3.2), (4.4, 2.8), (4.8, 1.8), (5.5, 1.3), (6.5, 1.2), (7.5, 1.8), (8.0, 2.2), (8.5, 1.8), (9.5, 1.4), (10.5, 1.5), (11, 1.7), (12, 1.1)],
    [(0, 0), (3.0, 0), (3.5, 1.5), (4.0, 2.5), (4.5, 1.9), (5.5, 1.0), (6.5, 1.2), (8.0, 1.6), (9.0, 1.4), (10, 1.3), (11, 1.6), (12, 1.2)],
    [(0, 0), (3.1, 0), (3.6, 1.2), (4.1, 2.0), (4.6, 1.5), (5.5, 1.0), (7.0, 1.0), (8.0, 1.3), (9.0, 1.0), (10, 1.1), (11, 1.4), (12, 1.2)],
    [(0, 0), (3.2, 0), (4.0, 1.5), (4.6, 1.2), (5.5, 0.9), (7.0, 1.1), (8.5, 1.5), (10, 1.0), (11, 1.6), (12, 1.3)],
    [(0, 0), (3.3, 0), (4.2, 1.2), (5.5, 1.1), (7.0, 1.2), (8.2, 1.8), (9.0, 1.3), (10.5, 1.2), (12, 1.0)],
    [(0, 0), (3.4, 0), (4.5, 1.0), (6.0, 0.9), (7.5, 0.9), (9.0, 1.0), (10.5, 1.0), (12, 0.9)],
]
OO_colors = ['C7', 'C0', 'C5', 'C3', 'C8', 'C6', 'C2']

NO = [
    [(0, 0), (2.6, 0), (2.75, 5.0), (2.9, 15.5), (2.95, 17.2), (3.05, 15.0), (3.2, 7.0), (3.4, 2.0), (3.8, 1.0), (4.5, 0.8), (5.0, 0.5), (5.5, 0.4), (6.5, 0.5), (8.0, 0.7), (9.5, 0.9), (11, 1.0), (12, 1.0)],
    [(0, 0), (4.5, 0), (5.5, 1.2), (6.3, 1.8), (7.0, 1.5), (8.0, 1.6), (9.0, 1.3), (10, 1.2), (11, 1.1), (12, 1.3)],
    [(0, 0), (4.6, 0), (5.5, 1.0), (6.5, 1.7), (7.5, 1.5), (8.5, 1.2), (10, 1.1), (12, 1.1)],
    [(0, 0), (4.7, 0), (5.5, 0.8), (6.5, 1.3), (8.0, 1.2), (9.5, 1.1), (12, 1.0)],
    [(0, 0), (4.6, 0), (5.5, 0.9), (6.5, 1.5), (8.0, 1.1), (9.5, 1.4), (11, 1.1), (12, 1.3)],
    [(0, 0), (4.8, 0), (6.0, 1.1), (7.5, 1.3), (9.0, 1.0), (12, 1.1)],
    [(0, 0), (4.8, 0), (5.8, 0.9), (7.5, 0.9), (9.5, 0.95), (12, 0.9)],
]
NO_colors = ['C0', 'C1', 'C2', 'C6', 'C3', 'C4', 'C2']

# y tick spacing per panel (rows: H, C, N, O urea; cols: H, C, O, N framework)
ystep = [[0.5, 1, 1, 1],
         [1, 2, 1, 2],
         [1, 1, 2, 1],
         [2.5, 2, 2, 5]]

panel_data = [[(HH, HH_colors), (CH, CH_colors), (OH, OH_colors), (NH, NH_colors)],
              [(HC, HC_colors), (CC, CC_colors), (OC, OC_colors), (NC, NC_colors)],
              [(HN, HN_colors), (CN, CN_colors), (ON, ON_colors), (NN, NN_colors)],
              [(HO, HO_colors), (CO, CO_colors), (OO, OO_colors), (NO, NO_colors)]]

# first curve dashed (the dominant peak)
first_dashed = [[False, True, False, True],
                [False, True, False, True],
                [True, False, False, True],
                [True, False, False, True]]

# axes boxes in pixels: (left, top, right, bottom)
boxes = [[(310, 85, 602, 302), (690, 85, 994, 312), (1083, 85, 1387, 308), (1477, 85, 1780, 310)],
         [(297, 367, 601, 593), (698, 367, 994, 587), (1083, 368, 1387, 592), (1477, 373, 1780, 592)],
         [(298, 648, 601, 875), (690, 648, 994, 875), (1083, 648, 1386, 875), (1477, 648, 1780, 875)],
         [(319, 927, 603, 1144), (699, 931, 995, 1152), (1093, 927, 1389, 1152), (1485, 927, 1783, 1152)]]

fig = plt.figure(figsize=(W / 100, H / 100), dpi=100)
fig.patch.set_facecolor('white')

for i in range(4):
    for j in range(4):
        l, t, r, b = boxes[i][j]
        ax = fig.add_axes([l / W, 1 - b / H, (r - l) / W, (b - t) / H])
        curves, colors = panel_data[i][j]
        for k, (pts, c) in enumerate(zip(curves, colors)):
            rr, gg = np.array(pts, dtype=float).T
            ls = '--' if (k == 0 and first_dashed[i][j]) else '-'
            ax.fill_between(rr, gg, color=c, alpha=0.3, lw=0)
            ax.plot(rr, gg, color=c, lw=1.0, ls=ls)
        ax.xaxis.set_major_locator(MultipleLocator(2.5))
        ax.yaxis.set_major_locator(MultipleLocator(ystep[i][j]))
        ax.grid(True, color='0.78', lw=0.8)
        for s in ax.spines.values():
            s.set_color('0.35')
            s.set_linewidth(0.8)
        ax.tick_params(labelsize=10, colors='0.15', length=3)
        ax.set_xlabel('Distance (Å)', fontsize=10, labelpad=2)
        ax.set_ylabel('g(r)', fontsize=10, labelpad=2)

# table grid
lw_tab = 2.0
for y in [9, 78, 360, 640, 922]:
    fig.add_artist(Line2D([2 / W, 1813 / W], [1 - y / H, 1 - y / H], color='black', lw=lw_tab))
for x in [2, 243, 635, 1029, 1421, 1813]:
    fig.add_artist(Line2D([x / W, x / W], [1 - 9 / H, 0], color='black', lw=lw_tab))

hdr = dict(ha='center', va='center', fontsize=21, fontweight='bold', family='Liberation Sans')
fig.text(122 / W, 1 - 45 / H, corner_label, linespacing=1.25, **hdr)
for x, lab in zip([440, 832, 1226, 1618], col_labels):
    fig.text(x / W, 1 - 46 / H, lab, **hdr)
for y, lab in zip([221, 502, 783, 1061], row_labels):
    fig.text(126 / W, 1 - y / H, lab, **hdr)

fig.savefig('out.png', dpi=100, facecolor='white')
